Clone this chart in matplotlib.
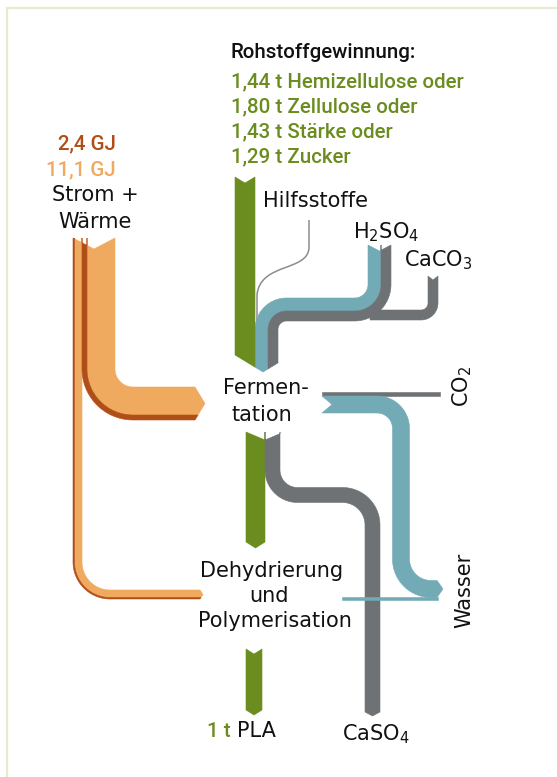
import numpy as np
import matplotlib
matplotlib.use('Agg')
import matplotlib.pyplot as plt
from matplotlib.patches import Polygon, PathPatch
from matplotlib.path import Path

plt.rcParams['mathtext.fontset'] = 'dejavusans'

# ---------------- data (labels / values) ----------------
title = 'Rohstoffgewinnung:'
raw_materials = ['1,44 t Hemizellulose oder', '1,80 t Zellulose oder',
                 '1,43 t Stärke oder', '1,29 t Zucker']
energy_values = ['2,4 GJ', '11,1 GJ']
energy_label = ['Strom +', 'Wärme']
aux_labels = ['Hilfsstoffe', 'H$_2$SO$_4$', 'CaCO$_3$']
step1 = ['Fermen-', 'tation']
step2 = ['Dehydrierung', 'und', 'Polymerisation']
outputs = ['CO$_2$', 'Wasser', 'CaSO$_4$']
product_amount = '1 t'
product_name = 'PLA'

# ---------------- style ----------------
GREEN = '#6b8c1e'
BLUE = '#72aab6'
GRAY = '#6e7274'
OR_L = '#f0aa60'
OR_D = '#b04e18'
BORDER = '#e6ecd2'
TXT = '#111111'
LAB = dict(family=['DejaVu Sans'], fontsize=15, color=TXT)
CND = dict(family=['Roboto', 'DejaVu Sans'], fontsize=14.8, fontweight='medium')

W, H = 557, 777
fig = plt.figure(figsize=(W / 100, H / 100), dpi=100)
ax = fig.add_axes([0, 0, 1, 1])
ax.set_xlim(0, W)
ax.set_ylim(H, 0)
ax.axis('off')


def sample(pts, radii, n=30):
    pts = [np.array(p, float) for p in pts]
    dirs = [(pts[i + 1] - pts[i]) / np.linalg.norm(pts[i + 1] - pts[i])
            for i in range(len(pts) - 1)]
    out = [(pts[0], dirs[0])]
    for i in range(1, len(pts) - 1):
        u, v, r, p = dirs[i - 1], dirs[i], radii[i - 1], pts[i]
        C = p - u * r + v * r
        for th in np.linspace(0, np.pi / 2, n):
            out.append((C - v * r * np.cos(th) + u * r * np.sin(th),
                        u * np.cos(th) + v * np.sin(th)))
    out.append((pts[-1], dirs[-1]))
    return out


def nrm(T):
    return np.array([-T[1], T[0]])


def disp(o, cap):
    if cap is None:
        return 0.0
    oc, hw, d = cap
    return d * max(0.0, 1 - abs(o - oc) / hw)


def band(pts, radii, o1, o2, color, start=None, end=None, z=2):
    s = sample(pts, radii)
    right = [P + o1 * nrm(T) for P, T in s]
    left = [P + o2 * nrm(T) for P, T in s]
    P0, T0 = s[0]
    P1, T1 = s[-1]

    def offs(cap):
        os_ = [o1, o2]
        if cap is not None and o1 < cap[0] < o2:
            os_ = [o1, cap[0], o2]
        return os_
    endp = [P1 + o * nrm(T1) + T1 * disp(o, end) for o in offs(end)]
    startp = [P0 + o * nrm(T0) + T0 * disp(o, start) for o in offs(start)[::-1]]
    poly = right + endp + left[::-1] + startp
    ax.add_patch(Polygon(poly, closed=True, fc=color, ec=color, lw=0.4, zorder=z))


# border
ax.plot([7.2, 7.2], [8.3, H], color=BORDER, lw=1.6, solid_capstyle='butt', zorder=1)
ax.plot([6.4, W], [8.3, 8.3], color=BORDER, lw=1.6, solid_capstyle='butt', zorder=1)

# ---- energy (orange) ----
p_thin = [(82, 238), (82, 590), (200, 590)]
band(p_thin, [28], 0, 7.5, OR_L, start=(-12, 21, 11), end=(4.5, 4.5, 3))
band(p_thin, [28], 7.5, 9, OR_D, start=(-12, 21, 11), end=(4.5, 4.5, 3))
p_big = [(115, 238), (115, 387), (195, 387)]
band(p_big, [18], 0, 28, OR_L, start=(21, 21, 11), end=(16.5, 16.5, 10))
band(p_big, [18], 28, 33, OR_D, start=(21, 21, 11), end=(16.5, 16.5, 10))

# ---- Hilfsstoffe thin line ----
verts = [(309, 220), (309, 247), (309, 272), (260, 262), (257, 295), (257, 330)]
codes = [Path.MOVETO, Path.LINETO, Path.CURVE4, Path.CURVE4, Path.CURVE4, Path.LINETO]
ax.add_patch(PathPatch(Path(verts, codes), fc='none', ec='#8a8d8f', lw=1.1, zorder=2))

# ---- CaCO3 (gray) ----
band([(433, 276), (433, 315), (370, 315)], [12], -5, 5, GRAY, start=(0, 5, 4), z=3)

# ---- H2SO4 (blue + gray) ----
p_h = [(374.5, 245), (374.5, 304.5), (261.5, 304.5), (261.5, 355)]
band(p_h, [20, 25], -6.5, 6.5, BLUE, start=(-5, 11.5, 6), end=(-1.5, 28, 17), z=4)
band(p_h, [20, 25], -16.5, -6.5, GRAY, start=(-5, 11.5, 6), end=(-1.5, 28, 17), z=4)

# ---- raw material input (green) ----
band([(245, 177), (245, 355)], [], -10, 10, GREEN, start=(0, 10, 6), end=(-18, 28, 17), z=4)

# ---- CO2 ----
band([(322, 394), (440, 394)], [], -2, 2, GRAY, z=3)

# ---- Wasser (blue) ----
band([(322, 404.5), (401, 404.5), (401, 589), (437, 589)], [24, 30], -8.5, 8.5, BLUE,
     start=(0, 8.5, 10), end=(0, 8.5, 6), z=3)

# ---- green middle ----
band([(255.5, 432), (255.5, 542)], [], -9.5, 9.5, GREEN, start=(-9.5, 19, 8), end=(0, 9.5, 6), z=3)

# ---- gray to CaSO4 ----
band([(272.5, 432), (272.5, 495), (372.5, 495), (372.5, 712)], [25, 30], -7.5, 7.5, GRAY,
     start=(7.5, 19, 8), end=(0, 7.5, 4), z=3)

# ---- thin water line from Dehydrierung ----
band([(342, 598.5), (438, 598.5)], [], -1.5, 1.5, BLUE, z=5)

# ---- green bottom ----
band([(254, 649), (254, 710)], [], -8, 8, GREEN, start=(0, 8, 5), end=(0, 8, 5), z=3)

# ---------------- texts ----------------
ax.text(231, 58, title, color=TXT, ha='left', va='baseline', **CND)
for i, t in enumerate(raw_materials):
    ax.text(231, 87 + 25 * i, t, color=GREEN, ha='left', va='baseline', **CND)

ax.text(115.5, 149, energy_values[0], color=OR_D, ha='right', va='baseline', **CND)
ax.text(115.5, 175, energy_values[1], color=OR_L, ha='right', va='baseline', **CND)
ax.text(95, 201, energy_label[0], ha='center', va='baseline', **LAB)
ax.text(95, 228, energy_label[1], ha='center', va='baseline', **LAB)

ax.text(263, 207, aux_labels[0], ha='left', va='baseline', **LAB)
ax.text(353, 238, aux_labels[1], ha='left', va='baseline', **LAB)
ax.text(404, 266, aux_labels[2], ha='left', va='baseline', **LAB)

ax.text(266, 394, step1[0], ha='center', va='baseline', **LAB)
ax.text(262, 421, step1[1], ha='center', va='baseline', **LAB)

ax.text(272, 577, step2[0], ha='center', va='baseline', **LAB)
ax.text(269, 602, step2[1], ha='center', va='baseline', **LAB)
ax.text(275, 627, step2[2], ha='center', va='baseline', **LAB)

ax.text(468, 386, outputs[0], ha='center', va='baseline', rotation=90,
        rotation_mode='anchor', **LAB)
ax.text(470, 590, outputs[1], ha='center', va='baseline', rotation=90,
        rotation_mode='anchor', **LAB)
ax.text(342, 740, outputs[2], ha='left', va='baseline', **LAB)

ax.text(207, 737, product_amount, color=GREEN, ha='left', va='baseline', **CND)
ax.text(237, 737, product_name, ha='left', va='baseline', **LAB)

fig.savefig('out.png', dpi=100, facecolor='white')
